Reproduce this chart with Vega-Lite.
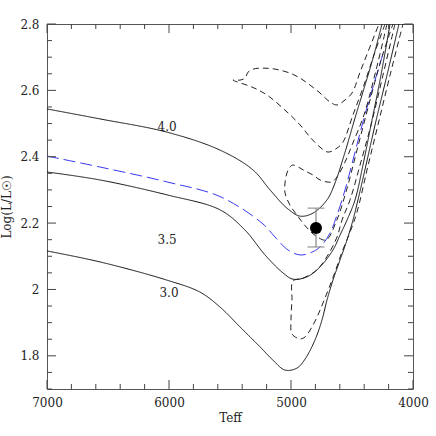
{
  "$schema": "https://vega.github.io/schema/vega-lite/v6.json",
  "width": 366,
  "height": 365,
  "autosize": {"type": "none"},
  "padding": {"left": 47, "top": 24, "right": 23, "bottom": 47},
  "config": {
    "view": {"stroke": null},
    "axis": {
      "labelFont": "DejaVu Serif", "labelFontSize": 12, "labelColor": "#222",
      "titleFont": "DejaVu Serif", "titleFontSize": 12, "titleFontWeight": "normal", "titleColor": "#222",
      "domainColor": "#555", "tickColor": "#555", "grid": false
    }
  },
  "datasets": {
    "tracks": [
      {"series":"M4.0","kind":"main","ord":1,"Teff":7000,"L":2.544},
      {"series":"M4.0","kind":"main","ord":2,"Teff":6566,"L":2.514},
      {"series":"M4.0","kind":"main","ord":3,"Teff":6016,"L":2.474},
      {"series":"M4.0","kind":"main","ord":4,"Teff":5582,"L":2.420},
      {"series":"M4.0","kind":"main","ord":5,"Teff":5311,"L":2.360},
      {"series":"M4.0","kind":"main","ord":6,"Teff":5172,"L":2.300},
      {"series":"M4.0","kind":"main","ord":7,"Teff":5033,"L":2.245},
      {"series":"M4.0","kind":"main","ord":8,"Teff":4926,"L":2.221},
      {"series":"M4.0","kind":"main","ord":9,"Teff":4820,"L":2.230},
      {"series":"M4.0","kind":"main","ord":10,"Teff":4705,"L":2.270},
      {"series":"M4.0","kind":"main","ord":11,"Teff":4639,"L":2.321},
      {"series":"M4.0","kind":"main","ord":12,"Teff":4557,"L":2.414},
      {"series":"M4.0","kind":"main","ord":13,"Teff":4475,"L":2.517},
      {"series":"M4.0","kind":"main","ord":14,"Teff":4393,"L":2.616},
      {"series":"M4.0","kind":"main","ord":15,"Teff":4320,"L":2.707},
      {"series":"M4.0","kind":"main","ord":16,"Teff":4254,"L":2.800},

      {"series":"M3.5","kind":"main","ord":1,"Teff":7000,"L":2.354},
      {"series":"M3.5","kind":"main","ord":2,"Teff":6566,"L":2.330},
      {"series":"M3.5","kind":"main","ord":3,"Teff":6016,"L":2.285},
      {"series":"M3.5","kind":"main","ord":4,"Teff":5582,"L":2.240},
      {"series":"M3.5","kind":"main","ord":5,"Teff":5377,"L":2.179},
      {"series":"M3.5","kind":"main","ord":6,"Teff":5213,"L":2.104},
      {"series":"M3.5","kind":"main","ord":7,"Teff":5066,"L":2.050},
      {"series":"M3.5","kind":"main","ord":8,"Teff":4984,"L":2.031},
      {"series":"M3.5","kind":"main","ord":9,"Teff":4869,"L":2.038},
      {"series":"M3.5","kind":"main","ord":10,"Teff":4762,"L":2.068},
      {"series":"M3.5","kind":"main","ord":11,"Teff":4656,"L":2.119},
      {"series":"M3.5","kind":"main","ord":12,"Teff":4598,"L":2.164},
      {"series":"M3.5","kind":"main","ord":13,"Teff":4541,"L":2.209},
      {"series":"M3.5","kind":"main","ord":14,"Teff":4475,"L":2.270},
      {"series":"M3.5","kind":"main","ord":15,"Teff":4410,"L":2.375},
      {"series":"M3.5","kind":"main","ord":16,"Teff":4344,"L":2.496},
      {"series":"M3.5","kind":"main","ord":17,"Teff":4270,"L":2.631},
      {"series":"M3.5","kind":"main","ord":18,"Teff":4188,"L":2.800},

      {"series":"M3.0","kind":"main","ord":1,"Teff":7000,"L":2.116},
      {"series":"M3.0","kind":"main","ord":2,"Teff":6566,"L":2.083},
      {"series":"M3.0","kind":"main","ord":3,"Teff":6016,"L":2.028},
      {"series":"M3.0","kind":"main","ord":4,"Teff":5746,"L":1.992},
      {"series":"M3.0","kind":"main","ord":5,"Teff":5582,"L":1.947},
      {"series":"M3.0","kind":"main","ord":6,"Teff":5418,"L":1.887},
      {"series":"M3.0","kind":"main","ord":7,"Teff":5254,"L":1.827},
      {"series":"M3.0","kind":"main","ord":8,"Teff":5148,"L":1.787},
      {"series":"M3.0","kind":"main","ord":9,"Teff":5049,"L":1.757},
      {"series":"M3.0","kind":"main","ord":10,"Teff":4951,"L":1.763},
      {"series":"M3.0","kind":"main","ord":11,"Teff":4885,"L":1.790},
      {"series":"M3.0","kind":"main","ord":12,"Teff":4803,"L":1.848},
      {"series":"M3.0","kind":"main","ord":13,"Teff":4746,"L":1.908},
      {"series":"M3.0","kind":"main","ord":14,"Teff":4705,"L":1.968},
      {"series":"M3.0","kind":"main","ord":15,"Teff":4656,"L":2.028},
      {"series":"M3.0","kind":"main","ord":16,"Teff":4598,"L":2.089},
      {"series":"M3.0","kind":"main","ord":17,"Teff":4541,"L":2.149},
      {"series":"M3.0","kind":"main","ord":18,"Teff":4492,"L":2.209},
      {"series":"M3.0","kind":"main","ord":19,"Teff":4451,"L":2.270},
      {"series":"M3.0","kind":"main","ord":20,"Teff":4385,"L":2.375},
      {"series":"M3.0","kind":"main","ord":21,"Teff":4311,"L":2.496},
      {"series":"M3.0","kind":"main","ord":22,"Teff":4213,"L":2.646},
      {"series":"M3.0","kind":"main","ord":23,"Teff":4115,"L":2.800},

      {"series":"B","kind":"alt","ord":1,"Teff":7000,"L":2.402},
      {"series":"B","kind":"alt","ord":2,"Teff":6566,"L":2.369},
      {"series":"B","kind":"alt","ord":3,"Teff":6016,"L":2.324},
      {"series":"B","kind":"alt","ord":4,"Teff":5582,"L":2.280},
      {"series":"B","kind":"alt","ord":5,"Teff":5238,"L":2.200},
      {"series":"B","kind":"alt","ord":6,"Teff":5131,"L":2.158},
      {"series":"B","kind":"alt","ord":7,"Teff":5025,"L":2.119},
      {"series":"B","kind":"alt","ord":8,"Teff":4926,"L":2.104},
      {"series":"B","kind":"alt","ord":9,"Teff":4844,"L":2.110},
      {"series":"B","kind":"alt","ord":10,"Teff":4762,"L":2.128},
      {"series":"B","kind":"alt","ord":11,"Teff":4680,"L":2.170},
      {"series":"B","kind":"alt","ord":12,"Teff":4623,"L":2.224},
      {"series":"B","kind":"alt","ord":13,"Teff":4557,"L":2.300},
      {"series":"B","kind":"alt","ord":14,"Teff":4492,"L":2.390},
      {"series":"B","kind":"alt","ord":15,"Teff":4410,"L":2.505},
      {"series":"B","kind":"alt","ord":16,"Teff":4328,"L":2.610},
      {"series":"B","kind":"alt","ord":17,"Teff":4246,"L":2.710},

      {"series":"LU","kind":"loop","ord":1,"Teff":4229,"L":2.800},
      {"series":"LU","kind":"loop","ord":2,"Teff":4320,"L":2.707},
      {"series":"LU","kind":"loop","ord":3,"Teff":4402,"L":2.616},
      {"series":"LU","kind":"loop","ord":4,"Teff":4492,"L":2.526},
      {"series":"LU","kind":"loop","ord":5,"Teff":4574,"L":2.444},
      {"series":"LU","kind":"loop","ord":6,"Teff":4623,"L":2.426},
      {"series":"LU","kind":"loop","ord":7,"Teff":4697,"L":2.414},
      {"series":"LU","kind":"loop","ord":8,"Teff":4762,"L":2.429},
      {"series":"LU","kind":"loop","ord":9,"Teff":4844,"L":2.459},
      {"series":"LU","kind":"loop","ord":10,"Teff":4926,"L":2.496},
      {"series":"LU","kind":"loop","ord":11,"Teff":5033,"L":2.535},
      {"series":"LU","kind":"loop","ord":12,"Teff":5197,"L":2.586},
      {"series":"LU","kind":"loop","ord":13,"Teff":5320,"L":2.610},
      {"series":"LU","kind":"loop","ord":14,"Teff":5475,"L":2.631},
      {"series":"LU","kind":"loop","ord":15,"Teff":5418,"L":2.631},
      {"series":"LU","kind":"loop","ord":16,"Teff":5377,"L":2.637},
      {"series":"LU","kind":"loop","ord":17,"Teff":5352,"L":2.655},
      {"series":"LU","kind":"loop","ord":18,"Teff":5311,"L":2.664},
      {"series":"LU","kind":"loop","ord":19,"Teff":5229,"L":2.667},
      {"series":"LU","kind":"loop","ord":20,"Teff":5131,"L":2.664},
      {"series":"LU","kind":"loop","ord":21,"Teff":5008,"L":2.652},
      {"series":"LU","kind":"loop","ord":22,"Teff":4926,"L":2.637},
      {"series":"LU","kind":"loop","ord":23,"Teff":4844,"L":2.616},
      {"series":"LU","kind":"loop","ord":24,"Teff":4762,"L":2.592},
      {"series":"LU","kind":"loop","ord":25,"Teff":4680,"L":2.565},
      {"series":"LU","kind":"loop","ord":26,"Teff":4623,"L":2.556},
      {"series":"LU","kind":"loop","ord":27,"Teff":4557,"L":2.571},
      {"series":"LU","kind":"loop","ord":28,"Teff":4500,"L":2.592},
      {"series":"LU","kind":"loop","ord":29,"Teff":4434,"L":2.655},
      {"series":"LU","kind":"loop","ord":30,"Teff":4369,"L":2.716},
      {"series":"LU","kind":"loop","ord":31,"Teff":4279,"L":2.800},

      {"series":"LM","kind":"loop","ord":1,"Teff":4213,"L":2.800},
      {"series":"LM","kind":"loop","ord":2,"Teff":4303,"L":2.661},
      {"series":"LM","kind":"loop","ord":3,"Teff":4402,"L":2.526},
      {"series":"LM","kind":"loop","ord":4,"Teff":4500,"L":2.435},
      {"series":"LM","kind":"loop","ord":5,"Teff":4557,"L":2.384},
      {"series":"LM","kind":"loop","ord":6,"Teff":4623,"L":2.339},
      {"series":"LM","kind":"loop","ord":7,"Teff":4664,"L":2.324},
      {"series":"LM","kind":"loop","ord":8,"Teff":4705,"L":2.324},
      {"series":"LM","kind":"loop","ord":9,"Teff":4762,"L":2.330},
      {"series":"LM","kind":"loop","ord":10,"Teff":4820,"L":2.345},
      {"series":"LM","kind":"loop","ord":11,"Teff":4885,"L":2.357},
      {"series":"LM","kind":"loop","ord":12,"Teff":4926,"L":2.366},
      {"series":"LM","kind":"loop","ord":13,"Teff":4984,"L":2.375},
      {"series":"LM","kind":"loop","ord":14,"Teff":5008,"L":2.369},
      {"series":"LM","kind":"loop","ord":15,"Teff":5033,"L":2.351},
      {"series":"LM","kind":"loop","ord":16,"Teff":5049,"L":2.321},
      {"series":"LM","kind":"loop","ord":17,"Teff":5049,"L":2.291},
      {"series":"LM","kind":"loop","ord":18,"Teff":5008,"L":2.254},
      {"series":"LM","kind":"loop","ord":19,"Teff":4951,"L":2.224},
      {"series":"LM","kind":"loop","ord":20,"Teff":4902,"L":2.200},
      {"series":"LM","kind":"loop","ord":21,"Teff":4852,"L":2.179},
      {"series":"LM","kind":"loop","ord":22,"Teff":4795,"L":2.161},
      {"series":"LM","kind":"loop","ord":23,"Teff":4713,"L":2.149},
      {"series":"LM","kind":"loop","ord":24,"Teff":4631,"L":2.203},
      {"series":"LM","kind":"loop","ord":25,"Teff":4549,"L":2.294},
      {"series":"LM","kind":"loop","ord":26,"Teff":4459,"L":2.420},
      {"series":"LM","kind":"loop","ord":27,"Teff":4352,"L":2.571},
      {"series":"LM","kind":"loop","ord":28,"Teff":4254,"L":2.701},
      {"series":"LM","kind":"loop","ord":29,"Teff":4164,"L":2.800},

      {"series":"LL","kind":"loop","ord":1,"Teff":4148,"L":2.800},
      {"series":"LL","kind":"loop","ord":2,"Teff":4246,"L":2.646},
      {"series":"LL","kind":"loop","ord":3,"Teff":4344,"L":2.496},
      {"series":"LL","kind":"loop","ord":4,"Teff":4434,"L":2.375},
      {"series":"LL","kind":"loop","ord":5,"Teff":4516,"L":2.270},
      {"series":"LL","kind":"loop","ord":6,"Teff":4582,"L":2.209},
      {"series":"LL","kind":"loop","ord":7,"Teff":4623,"L":2.158},
      {"series":"LL","kind":"loop","ord":8,"Teff":4697,"L":2.104},
      {"series":"LL","kind":"loop","ord":9,"Teff":4787,"L":2.059},
      {"series":"LL","kind":"loop","ord":10,"Teff":4902,"L":2.034},
      {"series":"LL","kind":"loop","ord":11,"Teff":4984,"L":2.025},
      {"series":"LL","kind":"loop","ord":12,"Teff":4992,"L":1.968},
      {"series":"LL","kind":"loop","ord":13,"Teff":5000,"L":1.908},
      {"series":"LL","kind":"loop","ord":14,"Teff":4992,"L":1.866},
      {"series":"LL","kind":"loop","ord":15,"Teff":4926,"L":1.851},
      {"series":"LL","kind":"loop","ord":16,"Teff":4885,"L":1.857},
      {"series":"LL","kind":"loop","ord":17,"Teff":4828,"L":1.887},
      {"series":"LL","kind":"loop","ord":18,"Teff":4779,"L":1.923},
      {"series":"LL","kind":"loop","ord":19,"Teff":4738,"L":1.959},
      {"series":"LL","kind":"loop","ord":20,"Teff":4689,"L":2.004},
      {"series":"LL","kind":"loop","ord":21,"Teff":4639,"L":2.053},
      {"series":"LL","kind":"loop","ord":22,"Teff":4582,"L":2.113},
      {"series":"LL","kind":"loop","ord":23,"Teff":4516,"L":2.173},
      {"series":"LL","kind":"loop","ord":24,"Teff":4459,"L":2.233},
      {"series":"LL","kind":"loop","ord":25,"Teff":4377,"L":2.360},
      {"series":"LL","kind":"loop","ord":26,"Teff":4287,"L":2.496},
      {"series":"LL","kind":"loop","ord":27,"Teff":4188,"L":2.646},
      {"series":"LL","kind":"loop","ord":28,"Teff":4082,"L":2.800}
    ],
    "obs": [{"Teff": 4795, "L": 2.185, "Llo": 2.128, "Lhi": 2.245}],
    "labels": [
      {"Teff": 6016, "L": 2.490, "text": "4.0"},
      {"Teff": 6016, "L": 2.149, "text": "3.5"},
      {"Teff": 6000, "L": 1.989, "text": "3.0"}
    ],
    "xmajor": [{"v":4000},{"v":5000},{"v":6000},{"v":7000}],
    "xminor": [{"v":4200},{"v":4400},{"v":4600},{"v":4800},{"v":5200},{"v":5400},{"v":5600},{"v":5800},{"v":6200},{"v":6400},{"v":6600},{"v":6800}],
    "ymajor": [{"v":1.8},{"v":2.0},{"v":2.2},{"v":2.4},{"v":2.6},{"v":2.8}],
    "yminor": [{"v":1.7},{"v":1.75},{"v":1.85},{"v":1.9},{"v":1.95},{"v":2.05},{"v":2.1},{"v":2.15},{"v":2.25},{"v":2.3},{"v":2.35},{"v":2.45},{"v":2.5},{"v":2.55},{"v":2.65},{"v":2.7},{"v":2.75}]
  },
  "layer": [
    {
      "data": {"name": "tracks"},
      "mark": {"type": "line", "strokeWidth": 1, "clip": true, "interpolate": "catmull-rom"},
      "encoding": {
        "x": {"field": "Teff", "type": "quantitative",
              "scale": {"domain": [4000, 7000], "reverse": true, "nice": false, "zero": false},
              "axis": {"orient": "bottom", "title": "Teff", "values": [4000,5000,6000,7000], "ticks": false, "tickSize": 0,
                       "format": "d", "labelPadding": 8, "titlePadding": 4, "labelFlush": false}},
        "y": {"field": "L", "type": "quantitative",
              "scale": {"domain": [1.7, 2.8], "nice": false, "zero": false},
              "axis": {"orient": "left", "title": "Log(L/L☉)", "values": [1.8,2,2.2,2.4,2.6,2.8], "ticks": false, "tickSize": 0,
                       "format": "~g", "labelPadding": 8, "titlePadding": 6, "labelFlush": false}},
        "detail": {"field": "series"},
        "order": {"field": "ord", "type": "quantitative"},
        "color": {"field": "kind", "type": "nominal", "legend": null,
                  "scale": {"domain": ["main", "loop", "alt"], "range": ["#111111", "#222222", "#3a3af0"]}},
        "strokeDash": {"field": "kind", "type": "nominal", "legend": null,
                  "scale": {"domain": ["main", "loop", "alt"], "range": [[1, 0], [6, 4], [12, 5]]}}
      }
    },
    {
      "data": {"name": "xmajor"},
      "mark": {"type": "rule", "color": "#444444", "strokeWidth": 1, "y2Offset": -9},
      "encoding": {"x": {"field": "v", "type": "quantitative", "axis": null},
                   "y": {"datum": 1.7, "type": "quantitative", "axis": null}, "y2": {"datum": 1.7}}
    },
    {
      "data": {"name": "xminor"},
      "mark": {"type": "rule", "color": "#444444", "strokeWidth": 1, "y2Offset": -5},
      "encoding": {"x": {"field": "v", "type": "quantitative", "axis": null},
                   "y": {"datum": 1.7, "type": "quantitative", "axis": null}, "y2": {"datum": 1.7}}
    },
    {
      "data": {"name": "xmajor"},
      "mark": {"type": "rule", "color": "#444444", "strokeWidth": 1, "y2Offset": 9},
      "encoding": {"x": {"field": "v", "type": "quantitative", "axis": null},
                   "y": {"datum": 2.8, "type": "quantitative", "axis": null}, "y2": {"datum": 2.8}}
    },
    {
      "data": {"name": "xminor"},
      "mark": {"type": "rule", "color": "#444444", "strokeWidth": 1, "y2Offset": 5},
      "encoding": {"x": {"field": "v", "type": "quantitative", "axis": null},
                   "y": {"datum": 2.8, "type": "quantitative", "axis": null}, "y2": {"datum": 2.8}}
    },
    {
      "data": {"name": "ymajor"},
      "mark": {"type": "rule", "color": "#444444", "strokeWidth": 1, "x2Offset": 9},
      "encoding": {"y": {"field": "v", "type": "quantitative", "axis": null},
                   "x": {"datum": 7000, "type": "quantitative", "axis": null}, "x2": {"datum": 7000}}
    },
    {
      "data": {"name": "yminor"},
      "mark": {"type": "rule", "color": "#444444", "strokeWidth": 1, "x2Offset": 5},
      "encoding": {"y": {"field": "v", "type": "quantitative", "axis": null},
                   "x": {"datum": 7000, "type": "quantitative", "axis": null}, "x2": {"datum": 7000}}
    },
    {
      "data": {"name": "ymajor"},
      "mark": {"type": "rule", "color": "#444444", "strokeWidth": 1, "x2Offset": -9},
      "encoding": {"y": {"field": "v", "type": "quantitative", "axis": null},
                   "x": {"datum": 4000, "type": "quantitative", "axis": null}, "x2": {"datum": 4000}}
    },
    {
      "data": {"name": "yminor"},
      "mark": {"type": "rule", "color": "#444444", "strokeWidth": 1, "x2Offset": -5},
      "encoding": {"y": {"field": "v", "type": "quantitative", "axis": null},
                   "x": {"datum": 4000, "type": "quantitative", "axis": null}, "x2": {"datum": 4000}}
    },
    {
      "data": {"name": "labels"},
      "mark": {"type": "text", "font": "DejaVu Serif", "fontSize": 12, "color": "#222"},
      "encoding": {
        "x": {"field": "Teff", "type": "quantitative", "axis": null},
        "y": {"field": "L", "type": "quantitative", "axis": null},
        "text": {"field": "text"}
      }
    },
    {
      "data": {"name": "obs"},
      "mark": {"type": "rule", "color": "#888888", "strokeWidth": 1.2},
      "encoding": {
        "x": {"field": "Teff", "type": "quantitative", "axis": null},
        "y": {"field": "Llo", "type": "quantitative", "axis": null},
        "y2": {"field": "Lhi"}
      }
    },
    {
      "data": {"name": "obs"},
      "mark": {"type": "tick", "orient": "horizontal", "color": "#888888", "size": 17, "thickness": 1.5},
      "encoding": {
        "x": {"field": "Teff", "type": "quantitative", "axis": null},
        "y": {"field": "Llo", "type": "quantitative", "axis": null}
      }
    },
    {
      "data": {"name": "obs"},
      "mark": {"type": "tick", "orient": "horizontal", "color": "#888888", "size": 17, "thickness": 1.5},
      "encoding": {
        "x": {"field": "Teff", "type": "quantitative", "axis": null},
        "y": {"field": "Lhi", "type": "quantitative", "axis": null}
      }
    },
    {
      "data": {"name": "obs"},
      "mark": {"type": "circle", "color": "black", "opacity": 1, "size": 145},
      "encoding": {
        "x": {"field": "Teff", "type": "quantitative",
              "axis": {"orient": "top", "title": null, "labels": false, "ticks": false, "tickSize": 0, "domain": true}},
        "y": {"field": "L", "type": "quantitative",
              "axis": {"orient": "right", "title": null, "labels": false, "ticks": false, "tickSize": 0, "domain": true}}
      }
    }
  ],
  "resolve": {"axis": {"x": "independent", "y": "independent"}}
}
